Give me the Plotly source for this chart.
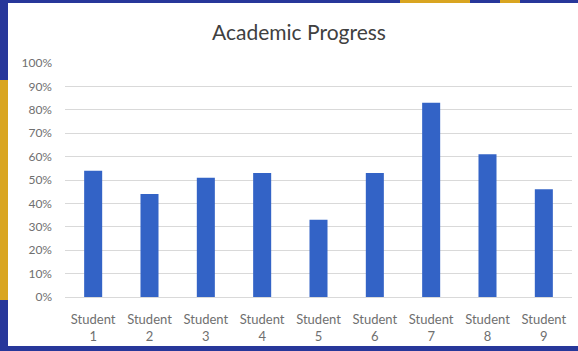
import plotly.graph_objects as go

categories = ["Student<br>1", "Student<br>2", "Student<br>3", "Student<br>4", "Student<br>5",
              "Student<br>6", "Student<br>7", "Student<br>8", "Student<br>9"]
values = [0.54, 0.44, 0.51, 0.53, 0.33, 0.53, 0.83, 0.61, 0.46]
y_ticks = [0, 0.1, 0.2, 0.3, 0.4, 0.5, 0.6, 0.7, 0.8, 0.9, 1.0]
y_tick_labels = ["0%", "10%", "20%", "30%", "40%", "50%", "60%", "70%", "80%", "90%", "100%"]

W, H = 578, 351
L, R, T, B = 65, 6, 63, 54
pw, ph = W - L - R, H - T - B

def px(x):
    return (x - L) / pw

def py(y):
    return (H - B - y) / ph

fig = go.Figure()
fig.add_trace(go.Bar(x=categories, y=values, marker_color="#3363c6", marker_line_width=0))

shapes = [
    # white chart panel
    dict(type="rect", xref="paper", yref="paper", x0=px(8), x1=px(578), y0=py(346), y1=py(3),
         fillcolor="white", line_width=0, layer="below"),
    # gold decorations on the border
    dict(type="rect", xref="paper", yref="paper", x0=px(0), x1=px(8), y0=py(300), y1=py(80),
         fillcolor="#d9a521", line_width=0, layer="below"),
    dict(type="rect", xref="paper", yref="paper", x0=px(400), x1=px(470), y0=py(3), y1=py(0),
         fillcolor="#d9a521", line_width=0, layer="below"),
    dict(type="rect", xref="paper", yref="paper", x0=px(500), x1=px(520), y0=py(3), y1=py(0),
         fillcolor="#d9a521", line_width=0, layer="below"),
]

fig.update_layout(
    width=W, height=H, autosize=False,
    margin=dict(l=L, r=R, t=T, b=B),
    paper_bgcolor="#27379a",
    plot_bgcolor="rgba(0,0,0,0)",
    shapes=shapes,
    bargap=0.68,
    showlegend=False,
    font=dict(family="Lato, 'Open Sans', sans-serif", color="#6f6f6f", size=12),
    title=dict(text="Academic Progress", x=299 / W, xref="container", xanchor="center",
               y=1 - 33 / H, yanchor="middle",
               font=dict(size=21, color="#404040", family="Lato, 'Open Sans', sans-serif")),
)
fig.update_yaxes(range=[0, 1], tickvals=y_ticks, ticktext=y_tick_labels,
                 showgrid=True, gridcolor="#d9d9d9", gridwidth=1, zeroline=False,
                 showline=False, ticks="", ticklabelstandoff=12,
                 tickfont=dict(size=12, color="#6f6f6f"))
fig.update_xaxes(showgrid=False, showline=True, linecolor="#d9d9d9", linewidth=1,
                 ticks="", ticklabelstandoff=10, tickangle=0,
                 tickfont=dict(size=13, color="#6f6f6f"))

fig.write_html("out.html")
